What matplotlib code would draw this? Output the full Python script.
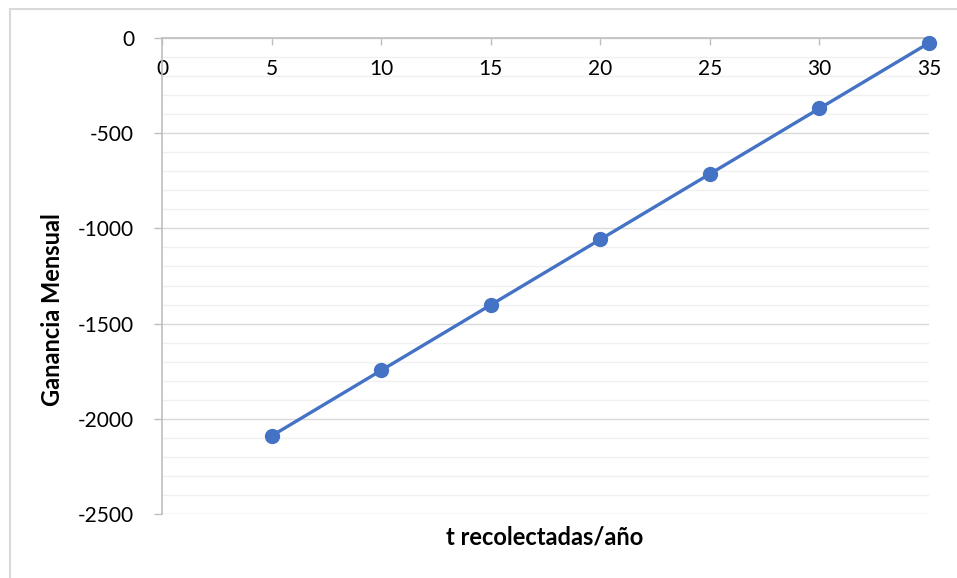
import matplotlib
matplotlib.use("Agg")
import matplotlib.pyplot as plt
from matplotlib.patches import Rectangle
from matplotlib.ticker import MultipleLocator, FuncFormatter

x_values = [5, 10, 15, 20, 25, 30, 35]
ganancia = [-2090, -1746, -1402, -1058, -714, -370, -26]
x_label = "t recolectadas/año"
y_label = "Ganancia Mensual"

plt.rcParams['font.family'] = ['Lato', 'DejaVu Sans']
plt.rcParams['axes.unicode_minus'] = False

W, H = 957, 578
fig = plt.figure(figsize=(W / 100, H / 100), dpi=100)
ax = fig.add_axes([162 / W, 1 - 514 / H, (929 - 162) / W, (514 - 38) / H])

ax.plot(x_values, ganancia, color='#4472C4', lw=2.4, marker='o', markersize=10,
        zorder=5, clip_on=False)

ax.set_xlim(0, 35)
ax.set_ylim(-2500, 0)
ax.xaxis.set_major_locator(MultipleLocator(5))
ax.yaxis.set_major_locator(MultipleLocator(500))
ax.yaxis.set_minor_locator(MultipleLocator(100))

ax.grid(which='major', axis='y', color='#D9D9D9', lw=1.0, zorder=0)
ax.grid(which='minor', axis='y', color='#F0F0F0', lw=1.0, zorder=0)
ax.set_axisbelow(True)

for s in ['top', 'right']:
    ax.spines[s].set_visible(False)
ax.spines['bottom'].set_position(('data', 0))
ax.spines['bottom'].set_color('#BFBFBF')
ax.spines['bottom'].set_linewidth(1.2)
ax.spines['left'].set_color('#BFBFBF')
ax.spines['left'].set_linewidth(1.2)
ax.spines['bottom'].set_zorder(1)

ax.tick_params(axis='x', which='major', direction='out', length=5, width=1,
               color='#BFBFBF', pad=10, labelsize=15, labelcolor='black')
ax.tick_params(axis='y', which='major', direction='out', length=6, width=1,
               color='#BFBFBF', pad=14, labelsize=15, labelcolor='black')
ax.tick_params(axis='y', which='minor', length=0)

ax.yaxis.set_major_formatter(FuncFormatter(lambda v, p: f"{int(round(v))}"))

fig.text(53 / W, 1 - 310 / H, y_label, rotation=90, ha='center', va='center',
         fontsize=17, fontweight='bold')
fig.text(545 / W, 1 - 537 / H, x_label, ha='center', va='center',
         fontsize=17, fontweight='bold')

border = Rectangle((10 / W, -0.2), 2, 1 - 9 / H + 0.2, transform=fig.transFigure,
                   fill=False, edgecolor='#D9D9D9', lw=1.5, clip_on=False)
fig.patches.append(border)

fig.savefig("out.png", dpi=100)
